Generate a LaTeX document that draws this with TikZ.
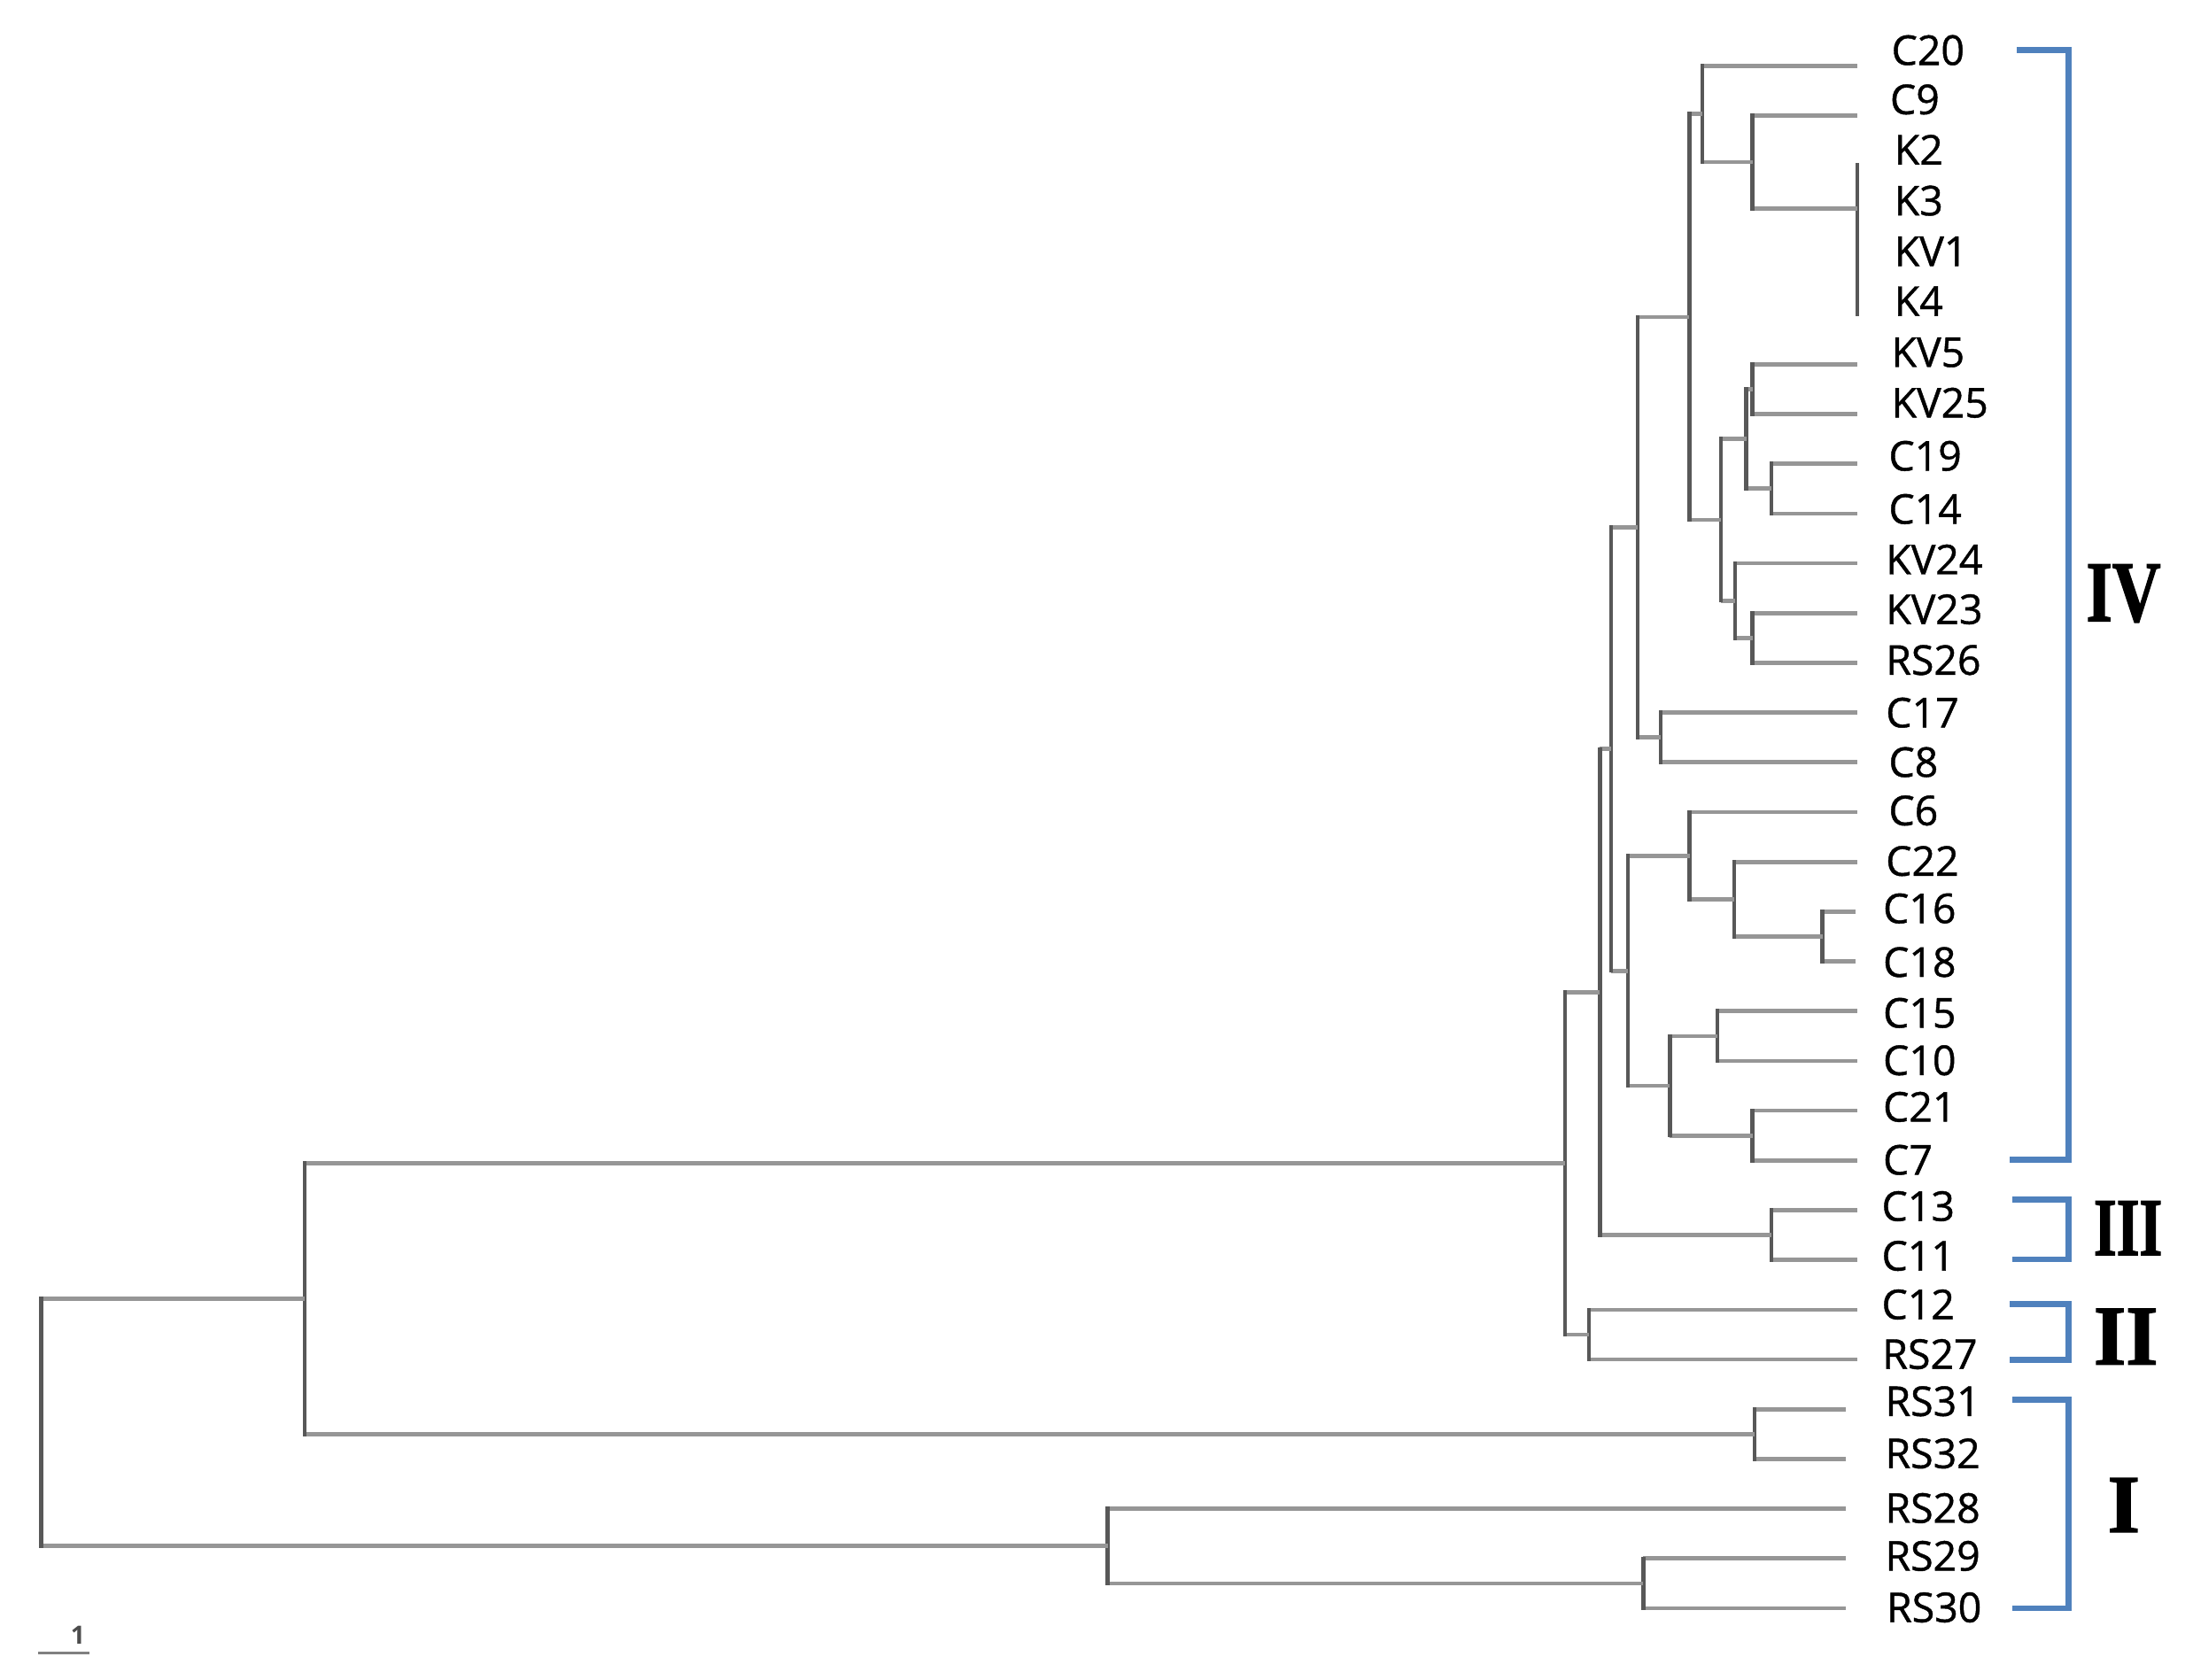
\documentclass[tikz,border=0pt]{standalone}
\usepackage{fontspec}
\setmainfont{Open Sans}
\newfontface\labfont{Open Sans}[FakeBold=0.9]
\newfontface\romanfont{Liberation Serif Bold}[FakeBold=1.6]
\definecolor{hcol}{RGB}{150,150,150}
\definecolor{vcol}{RGB}{88,88,88}
\definecolor{bcol}{RGB}{79,129,189}
\newcommand\treejoin[3]{%
  \draw[hl] (#1 |- #2) -- (#2);
  \draw[hl] (#1 |- #3) -- (#3);
  \draw[vl] (#1 |- #2) -- (#1 |- #3);}
\begin{document}
\begin{tikzpicture}[x=0.5pt,y=-0.5pt,
  hl/.style={draw=hcol,line width=1.45pt},
  vl/.style={draw=vcol,line width=1.4pt,line cap=rect},
  lab/.style={anchor=west,inner sep=0pt,font=\labfont\fontsize{14.7}{16}\selectfont},
  brk/.style={draw=bcol,line width=2.2pt,line join=miter},
  rom/.style={inner sep=0pt}]
\useasboundingbox (0,0) rectangle (1568,1201);
% leaf ends
\coordinate (eC20) at (1328,47.0);
\coordinate (eC9) at (1328,82.6);
\coordinate (eK2) at (1328,118.2);
\coordinate (eK3) at (1328,153.7);
\coordinate (eKV1) at (1328,189.3);
\coordinate (eK4) at (1328,224.9);
\coordinate (eKV5) at (1328,260.5);
\coordinate (eKV25) at (1328,296.1);
\coordinate (eC19) at (1328,331.6);
\coordinate (eC14) at (1328,367.2);
\coordinate (eKV24) at (1328,402.8);
\coordinate (eKV23) at (1328,438.4);
\coordinate (eRS26) at (1328,474.0);
\coordinate (eC17) at (1328,509.5);
\coordinate (eC8) at (1328,545.1);
\coordinate (eC6) at (1328,580.7);
\coordinate (eC22) at (1328,616.3);
\coordinate (eC16) at (1327,651.9);
\coordinate (eC18) at (1327,687.4);
\coordinate (eC15) at (1328,723.0);
\coordinate (eC10) at (1328,758.6);
\coordinate (eC21) at (1328,794.2);
\coordinate (eC7) at (1328,829.8);
\coordinate (eC13) at (1328,865.3);
\coordinate (eC11) at (1328,900.9);
\coordinate (eC12) at (1328,936.5);
\coordinate (eRS27) at (1328,972.1);
\coordinate (eRS31) at (1320,1007.7);
\coordinate (eRS32) at (1320,1043.2);
\coordinate (eRS28) at (1320,1078.8);
\coordinate (eRS29) at (1320,1114.4);
\coordinate (eRS30) at (1320,1150.0);
% internal nodes
\coordinate (nK) at (1328,149.3);
\coordinate (nCK) at (1253,116.0);
\coordinate (n1) at (1217.3,81.5);
\coordinate (nKV) at (1253,278.3);
\coordinate (nC1914) at (1266.5,349.4);
\coordinate (n4) at (1248.6,313.9);
\coordinate (nKR) at (1253,456.2);
\coordinate (n6) at (1240.6,429.5);
\coordinate (n3) at (1230.6,371.7);
\coordinate (n2) at (1207.9,226.6);
\coordinate (nC178) at (1187.4,527.3);
\coordinate (n7) at (1171,377);
\coordinate (nC1618) at (1303,669.7);
\coordinate (nC22) at (1240,643);
\coordinate (nC6) at (1208,611.9);
\coordinate (nC1510) at (1228,740.8);
\coordinate (nC217) at (1253,812);
\coordinate (nlow) at (1194,776.4);
\coordinate (n9) at (1164,694.2);
\coordinate (n8) at (1152,535.6);
\coordinate (nC1311) at (1266.5,883.1);
\coordinate (nD) at (1144,709.4);
\coordinate (nII) at (1136,954.3);
\coordinate (nC) at (1119,831.9);
\coordinate (nRS3132) at (1254.5,1025.5);
\coordinate (nA) at (218,928.7);
\coordinate (nRS2930) at (1175,1132.2);
\coordinate (nB) at (792,1105.5);
\coordinate (root) at (29.5,1017);
% tree
\draw[vl] (eK2) -- (eK4);
\treejoin{nCK}{eC9}{nK}
\treejoin{n1}{eC20}{nCK}
\treejoin{nKV}{eKV5}{eKV25}
\treejoin{nC1914}{eC19}{eC14}
\treejoin{n4}{nKV}{nC1914}
\treejoin{nKR}{eKV23}{eRS26}
\treejoin{n6}{eKV24}{nKR}
\treejoin{n3}{n4}{n6}
\treejoin{n2}{n1}{n3}
\treejoin{nC178}{eC17}{eC8}
\treejoin{n7}{n2}{nC178}
\treejoin{nC1618}{eC16}{eC18}
\treejoin{nC22}{eC22}{nC1618}
\treejoin{nC6}{eC6}{nC22}
\treejoin{nC1510}{eC15}{eC10}
\treejoin{nC217}{eC21}{eC7}
\treejoin{nlow}{nC1510}{nC217}
\treejoin{n9}{nC6}{nlow}
\treejoin{n8}{n7}{n9}
\treejoin{nC1311}{eC13}{eC11}
\treejoin{nD}{n8}{nC1311}
\treejoin{nII}{eC12}{eRS27}
\treejoin{nC}{nD}{nII}
\treejoin{nRS3132}{eRS31}{eRS32}
\treejoin{nA}{nC}{nRS3132}
\treejoin{nRS2930}{eRS29}{eRS30}
\treejoin{nB}{eRS28}{nRS2930}
\treejoin{root}{nA}{nB}
% labels
\node[lab] (tC20) at (1352,35.9) {C20};
\node[lab] (tC9) at (1351,71.1) {C9};
\node[lab] (tK2) at (1354,107) {K2};
\node[lab] (tK3) at (1354,143.5) {K3};
\node[lab] (tKV1) at (1354,179.7) {KV1};
\node[lab] (tK4) at (1354,215.3) {K4};
\node[lab] (tKV5) at (1352,252) {KV5};
\node[lab] (tKV25) at (1352,288) {KV25};
\node[lab] (tC19) at (1350,326) {C19};
\node[lab] (tC14) at (1350,364) {C14};
\node[lab] (tKV24) at (1348,400) {KV24};
\node[lab] (tKV23) at (1348,435.7) {KV23};
\node[lab] (tRS26) at (1348,472) {RS26};
\node[lab] (tC17) at (1348,509.6) {C17};
\node[lab] (tC8) at (1350,545) {C8};
\node[lab] (tC6) at (1350,579.6) {C6};
\node[lab] (tC22) at (1348,615.7) {C22};
\node[lab] (tC16) at (1346,649.6) {C16};
\node[lab] (tC18) at (1346,688) {C18};
\node[lab] (tC15) at (1346,724.3) {C15};
\node[lab] (tC10) at (1346,758.2) {C10};
\node[lab] (tC21) at (1346,791.5) {C21};
\node[lab] (tC7) at (1346,829.4) {C7};
\node[lab] (tC13) at (1345,862.5) {C13};
\node[lab] (tC11) at (1345,898) {C11};
\node[lab] (tC12) at (1345,932.8) {C12};
\node[lab] (tRS27) at (1345.5,968.3) {RS27};
\node[lab] (tRS31) at (1347.5,1002) {RS31};
\node[lab] (tRS32) at (1347.5,1039.3) {RS32};
\node[lab] (tRS28) at (1347.5,1078.4) {RS28};
\node[lab] (tRS29) at (1347.5,1112.6) {RS29};
\node[lab] (tRS30) at (1348.5,1149.4) {RS30};
% brackets
\draw[brk] (1442,35.9) -- (1479,35.9) -- (1479,829.4) -- (1437,829.4);
\draw[brk] (1439,858) -- (1479,858) -- (1479,900.5) -- (1439,900.5);
\draw[brk] (1437,932.5) -- (1479,932.5) -- (1479,972.5) -- (1437,972.5);
\draw[brk] (1439,1001) -- (1479,1001) -- (1479,1150) -- (1439,1150);
% group numerals
\node[rom] (gIV) at (1518.3,424.3) {\resizebox{26.7pt}{20.25pt}{\romanfont IV}};
\node[rom] (gIII) at (1521.5,878.2) {\resizebox{24.5pt}{19.25pt}{\romanfont III}};
\node[rom] (gII) at (1520,955.8) {\resizebox{23pt}{19.85pt}{\romanfont II}};
\node[rom] (gI) at (1518.5,1076.3) {\resizebox{11.5pt}{19.25pt}{\romanfont I}};
% scale bar
\coordinate (sb1) at (27.3,1182);
\coordinate (sb2) at (64.1,1182);
\draw[draw=gray,line width=1pt] (sb1) -- (sb2);
\node[inner sep=0pt,text=black!70,font=\bfseries\fontsize{9}{10}\selectfont] (sbl) at (55.7,1169) {1};
\end{tikzpicture}
\end{document}
